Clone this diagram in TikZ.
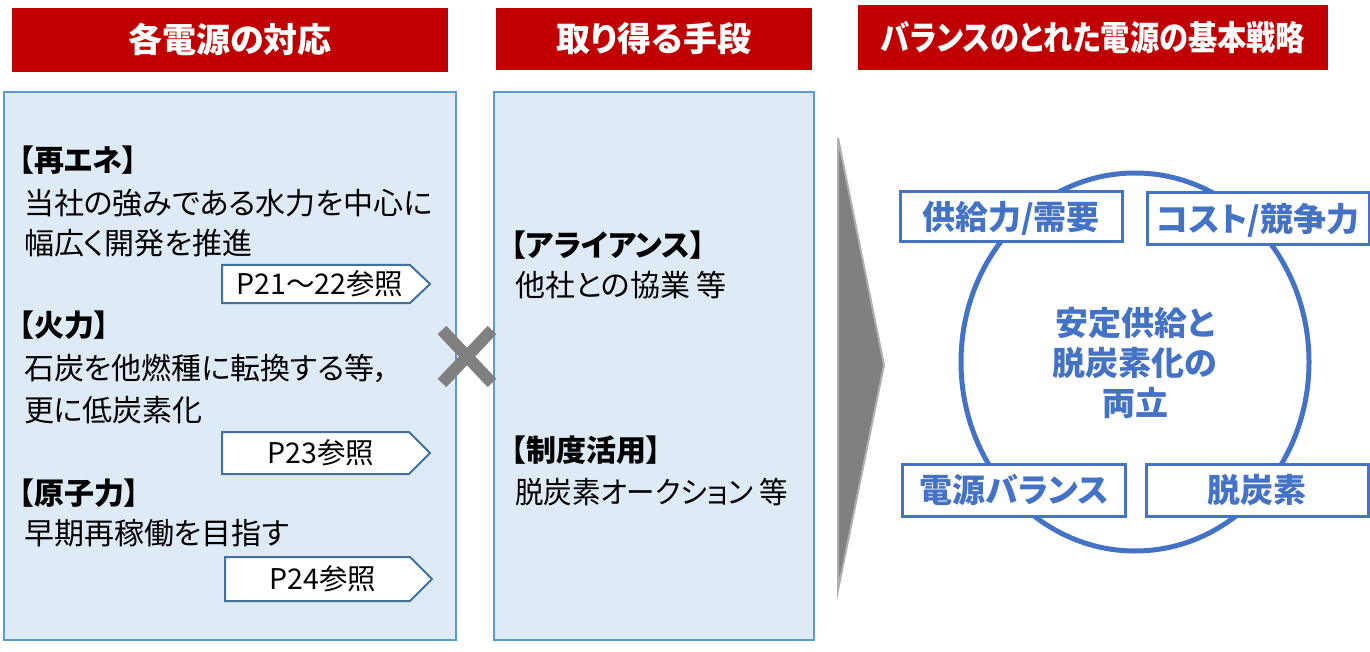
\documentclass[tikz,border=0pt]{standalone}
\usepackage{fontspec}
\setmainfont{Noto Sans CJK JP}[CharacterWidth=AlternateProportional]
\usetikzlibrary{shapes.geometric}
\definecolor{hdred}{HTML}{C00000}
\definecolor{panelfill}{HTML}{DEEBF7}
\definecolor{panelline}{HTML}{5B9BD5}
\definecolor{kblue}{HTML}{4472C4}
\definecolor{tagline}{HTML}{41719C}
\definecolor{xgray}{HTML}{808080}
\definecolor{chevedge}{HTML}{B0B0B0}
\begin{document}
\begin{tikzpicture}[x=1pt,y=-1pt,
  every node/.style={inner sep=0pt, outer sep=0pt},
  hdr/.style={fill=hdred, text=white, font=\fontsize{34}{40}\selectfont\bfseries, text height=29.9pt, text depth=4.1pt},
  panel/.style={fill=panelfill, draw=panelline, line width=2.5pt},
  body/.style={anchor=west, font=\fontsize{30}{36}\selectfont, text height=26.4pt, text depth=3.6pt},
  bhead/.style={anchor=west, font=\fontsize{30}{36}\selectfont\bfseries, text height=26.4pt, text depth=3.6pt},
  tagshape/.style={fill=white, draw=tagline, line width=2pt, line join=miter},
  tagtext/.style={font=\fontsize{28.5}{33}\selectfont, text height=25.1pt, text depth=3.4pt},
  keybox/.style={draw=kblue, line width=3pt, fill=white, text=kblue, font=\fontsize{33}{38}\selectfont\bfseries, text height=29pt, text depth=4pt},
  xmark/.style={draw=xgray, line width=12pt}
]
\useasboundingbox (0,0) rectangle (1370,652);

% headers
\node[hdr, minimum width=436pt, minimum height=64pt] (h1) at (230,40) {各電源の対応};
\node[hdr, minimum width=316pt, minimum height=62pt] (h2) at (654,39) {取り得る手段};
\node[hdr, minimum width=470pt, minimum height=65pt] (h3) at (1093,38) {\scalebox{0.86}[1]{バランスのとれた電源の基本戦略}};

% panels
\node[panel, minimum width=452pt, minimum height=548pt] (p1) at (230,366) {};
\node[panel, minimum width=320pt, minimum height=548pt] (p2) at (654,366) {};

% left panel text
\node[bhead] (t1) at (19,160) {【再エネ】};
\node[body] (t2) at (24,203) {当社の強みである水力を中心に};
\node[body] (t3) at (24,243) {幅広く開発を推進};
\draw[tagshape] (222,265) -- (410,265) -- (430,284) -- (410,303) -- (222,303) -- cycle;
\node[tagtext] (g1) at (320,284) {P21～22参照};

\node[bhead] (t4) at (19,325) {【火力】};
\node[body] (t5) at (24,368) {石炭を他燃種に転換する等，};
\node[body] (t6) at (24,410) {更に低炭素化};
\draw[tagshape] (222,432) -- (409,432) -- (430,453) -- (409,474) -- (222,474) -- cycle;
\node[tagtext] (g2) at (321,453) {P23参照};

\node[bhead] (t7) at (19,493) {【原子力】};
\node[body] (t8) at (24,533) {早期再稼働を目指す};
\draw[tagshape] (225,557) -- (410,557) -- (432,579) -- (410,601) -- (225,601) -- cycle;
\node[tagtext] (g3) at (323,579) {P24参照};

% cross mark
\draw[xmark] (442,330) -- (492,383);
\draw[xmark] (492,330) -- (442,383);

% middle panel text
\node[bhead] (m1) at (511,245) {【アライアンス】};
\node[body] (m2) at (515,285) {他社との協業 等};
\node[bhead] (m3) at (511,450) {【制度活用】};
\node[body] (m4) at (515,492) {\scalebox{0.95}[1]{脱炭素オークション 等}};

% chevron
\draw[fill=xgray, draw=chevedge, line width=2pt, line join=miter] (838,138) -- (884,365) -- (838,590) -- cycle;

% circle
\node[draw=kblue, line width=5pt, ellipse, minimum width=348pt, minimum height=378pt] (circ) at (1135,362) {};
\node[text=kblue, font=\fontsize{33}{40}\selectfont\bfseries, align=center] (ct) at (1135,363) {安定供給と\\脱炭素化の\\両立};

% key boxes
\node[keybox, minimum width=222pt, minimum height=50pt] (b1) at (1011,217) {供給力/需要};
\node[keybox, minimum width=222pt, minimum height=52pt] (b2) at (1258,219) {コスト/競争力};
\node[keybox, minimum width=223pt, minimum height=52pt] (b3) at (1014,490) {電源バランス};
\node[keybox, minimum width=222pt, minimum height=52pt] (b4) at (1257,490) {脱炭素};
\end{tikzpicture}
\end{document}
